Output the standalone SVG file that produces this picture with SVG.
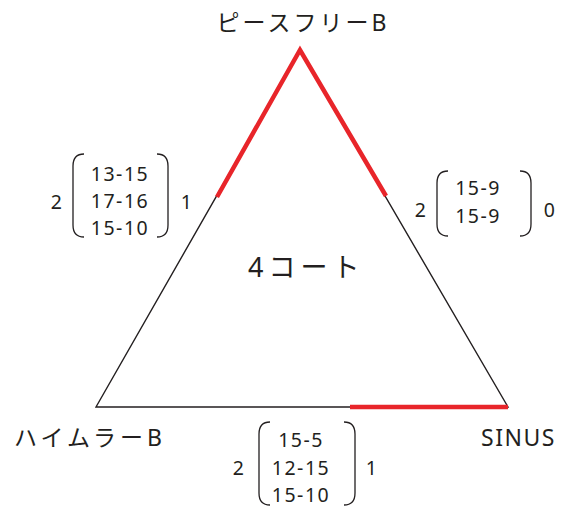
<svg xmlns="http://www.w3.org/2000/svg" width="568" height="508" viewBox="0 0 568 508">
<style>
text{font-family:"Noto Sans","Noto Sans CJK JP",sans-serif;fill:#231f20;}
.lbl{font-size:23px;letter-spacing:3px;}
.num{font-size:19.5px;text-anchor:middle;letter-spacing:1.5px;}
.edge{stroke:#231f20;stroke-width:1.4;fill:none;}
.hot{stroke:#e8252a;stroke-width:4.5;fill:none;stroke-linecap:butt;}
.br{stroke:#231f20;stroke-width:1.3;fill:none;}
</style>
<rect width="568" height="508" fill="#fff"/>
<g id="connectors">
<path class="edge" d="M300,50 L96,407 L508,407 Z"/>
<path class="hot" d="M217,197 L300,50 L386,196"/>
<path class="hot" d="M350,407 L508,407"/>
</g>
<g id="node-top"><text class="lbl" x="303" y="31" text-anchor="middle">ピースフリーB</text></g>
<g id="node-left"><text class="lbl" x="14" y="446" style="letter-spacing:4px">ハイムラーB</text></g>
<g id="node-right"><text class="lbl" x="481" y="446" style="letter-spacing:1.5px">SINUS</text></g>
<g id="center"><text x="248" y="277" style="font-size:27px;letter-spacing:5px">4コート</text></g>
<g id="matrix-left">
<text class="num" x="57" y="209">2</text>
<path class="br" d="M84,154 Q73,154 73,166 L73,225 Q73,237 84,237"/>
<path class="br" d="M157,154 Q168,154 168,166 L168,225 Q168,237 157,237"/>
<text class="num" x="120" y="181">13-15</text>
<text class="num" x="120" y="208">17-16</text>
<text class="num" x="120" y="235">15-10</text>
<text class="num" x="187" y="209">1</text>
</g>
<g id="matrix-right">
<text class="num" x="421" y="217">2</text>
<path class="br" d="M448,171 Q437,171 437,183 L437,224 Q437,236 448,236"/>
<path class="br" d="M520,171 Q531,171 531,183 L531,224 Q531,236 520,236"/>
<text class="num" x="478" y="195">15-9</text>
<text class="num" x="478" y="223">15-9</text>
<text class="num" x="550" y="217">0</text>
</g>
<g id="matrix-bottom">
<text class="num" x="239" y="475">2</text>
<path class="br" d="M270,422 Q259,422 259,434 L259,493 Q259,505 270,505"/>
<path class="br" d="M344,422 Q355,422 355,434 L355,493 Q355,505 344,505"/>
<text class="num" x="301" y="447">15-5</text>
<text class="num" x="301" y="475">12-15</text>
<text class="num" x="301" y="502">15-10</text>
<text class="num" x="372" y="475">1</text>
</g>
</svg>
